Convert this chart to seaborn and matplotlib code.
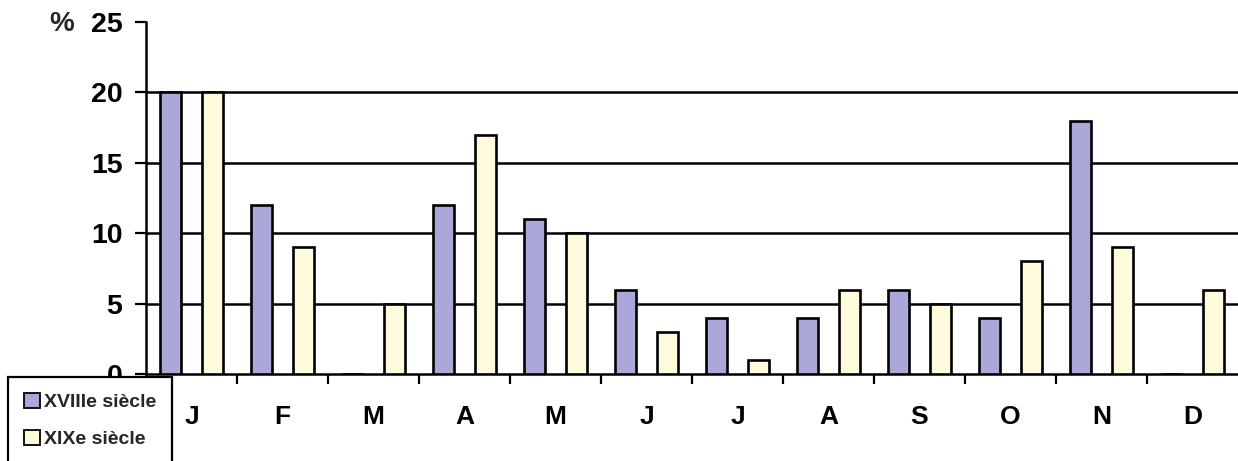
import matplotlib
matplotlib.use("Agg")
import matplotlib.pyplot as plt
import seaborn as sns
import pandas as pd
from matplotlib.patches import Patch

# Monthly distribution (%) for the two centuries
months = ["Janvier", "Février", "Mars", "Avril", "Mai", "Juin",
          "Juillet", "Août", "Septembre", "Octobre", "Novembre", "Décembre"]
month_letters = ["J", "F", "M", "A", "M", "J", "J", "A", "S", "O", "N", "D"]
series_names = ["XVIIIe siècle", "XIXe siècle"]
xviii = [20, 12, 0, 12, 11, 6, 4, 4, 6, 4, 18, 0]
xix = [20, 9, 5, 17, 10, 3, 1, 6, 5, 8, 9, 6]
y_ticks = [0, 5, 10, 15, 20, 25]

colors = ["#aaa8d8", "#fdfbdc"]

df = pd.DataFrame({
    "mois": months * 2,
    "siecle": [series_names[0]] * 12 + [series_names[1]] * 12,
    "pct": xviii + xix,
})

sns.set_theme(style="white")
plt.rcParams["font.family"] = ["Liberation Sans", "DejaVu Sans"]

fig = plt.figure(figsize=(12.38, 4.61), dpi=100)
ax = fig.add_axes([146 / 1238, 87 / 461, 1 - 146 / 1238, (374 - 22) / 461])

sns.barplot(data=df, x="mois", y="pct", hue="siecle", order=months,
            hue_order=series_names, palette=colors, width=0.92, gap=0.5,
            edgecolor="black", linewidth=1.9, saturation=1, legend=False,
            ax=ax, zorder=3)

ax.set_xlim(-0.5, 11.5)
ax.set_ylim(0, 25)
ax.set_yticks(y_ticks)
ax.set_yticklabels([str(t) for t in y_ticks], fontsize=20.5, fontweight="bold")
ax.set_xticks(range(12))
ax.set_xticklabels(month_letters, fontsize=19, fontweight="bold")
ax.set_xticks([i + 0.5 for i in range(11)], minor=True)
ax.tick_params(axis="x", which="major", length=0, pad=22, colors="black")
ax.tick_params(axis="x", which="minor", length=7, width=1.6, direction="out",
               color="black", bottom=True)
ax.tick_params(axis="y", length=8, width=1.6, direction="out", pad=9,
               colors="black", left=True)
ax.set_xlabel("")
ax.set_ylabel("")

# Horizontal reference lines behind the bars
for t in y_ticks[1:-1]:
    ax.axhline(t, color="black", linewidth=1.8, zorder=1)

for side in ["top", "right"]:
    ax.spines[side].set_visible(False)
for side in ["left", "bottom"]:
    ax.spines[side].set_color("black")
    ax.spines[side].set_linewidth(1.8)

fig.text(62 / 1238, 1 - 24 / 461, "%", fontsize=20, fontweight="bold",
         ha="center", va="center")

handles = [Patch(facecolor=c, edgecolor="black", linewidth=1.3) for c in colors]
leg = fig.legend(handles, series_names, loc="upper left",
                 bbox_to_anchor=(8 / 1238, 1 - 377 / 461),
                 frameon=True, fancybox=False, borderaxespad=0,
                 handlelength=0.85, handleheight=0.85, handletextpad=0.2,
                 labelspacing=0.95, borderpad=0.8,
                 prop={"weight": "bold", "size": 14})
leg.get_frame().set_edgecolor("black")
leg.get_frame().set_linewidth(1.6)
leg.get_frame().set_alpha(1)
leg.set_zorder(10)

fig.savefig("out.png", dpi=100, facecolor="white")
